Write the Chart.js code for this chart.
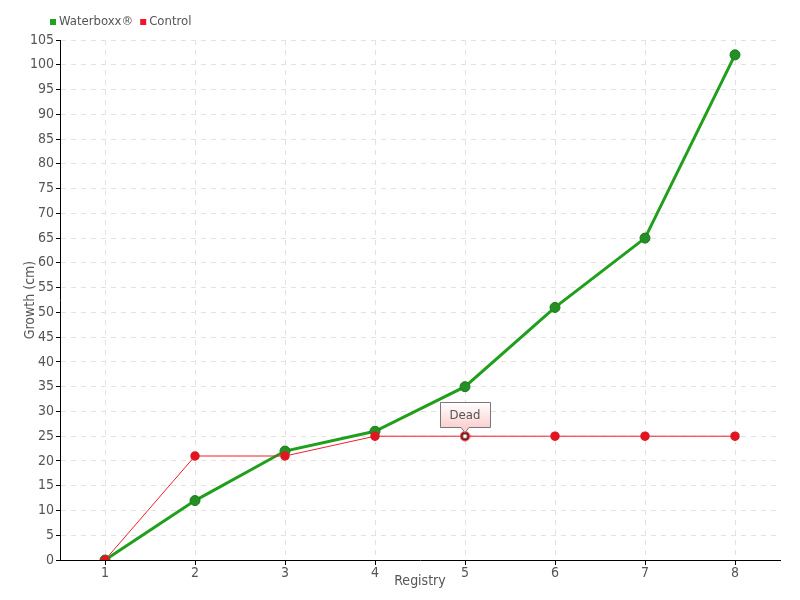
<!DOCTYPE html>
<html>
<head>
<meta charset="utf-8">
<script src="https://cdn.jsdelivr.net/npm/chart.js@4.4.1/dist/chart.umd.min.js"></script>
<style>
  html, body { margin: 0; padding: 0; background: #fff; }
  #wrap { width: 800px; height: 600px; }
</style>
</head>
<body>
<div id="wrap"><canvas id="growth"></canvas></div>
<script>
// データ
const registry = ['1', '2', '3', '4', '5', '6', '7', '8'];
const waterboxx = [0, 12, 22, 26, 35, 51, 65, 102];
const control = [0, 21, 21, 25, 25, 25, 25, 25];
const deadIndex = 4; // Control が枯れた地点
const deadLabel = 'Dead';
const yTicksMax = 105;

const FONT = '"DejaVu Sans Condensed", "Liberation Sans Narrow", sans-serif';
const TEXT = '#555';

// 凡例（左上）
const legendPlugin = {
  id: 'topLegend',
  afterDraw(chart) {
    const ctx = chart.ctx;
    ctx.save();
    ctx.font = '13px ' + FONT;
    ctx.textBaseline = 'middle';
    let x = 50;
    const y = 22;
    chart.data.datasets.forEach(ds => {
      ctx.fillStyle = ds.legendColor;
      ctx.fillRect(x, y - 3, 6, 6);
      x += 9;
      ctx.fillStyle = TEXT;
      ctx.fillText(ds.label, x, y);
      x += ctx.measureText(ds.label).width + 7;
    });
    ctx.restore();
  }
};

// "Dead" の吹き出し
const deadPlugin = {
  id: 'deadTip',
  afterDatasetsDraw(chart) {
    const meta = chart.getDatasetMeta(1);
    const pt = meta.data[deadIndex];
    if (!pt) return;
    const ctx = chart.ctx;
    ctx.save();
    ctx.font = '13px ' + FONT;
    const w = 50, h = 25;
    const bx = Math.round(pt.x - w / 2) + 0.5, by = Math.round(pt.y - 9 - h) + 0.5;
    const grad = ctx.createLinearGradient(0, by, 0, by + h);
    grad.addColorStop(0, '#ffffff');
    grad.addColorStop(1, '#fbd0d0');
    ctx.beginPath();
    ctx.moveTo(bx, by);
    ctx.lineTo(bx + w, by);
    ctx.lineTo(bx + w, by + h);
    ctx.lineTo(pt.x + 4, by + h);
    ctx.lineTo(pt.x, by + h + 5);
    ctx.lineTo(pt.x - 4, by + h);
    ctx.lineTo(bx, by + h);
    ctx.closePath();
    ctx.fillStyle = grad;
    ctx.fill();
    ctx.strokeStyle = '#777';
    ctx.lineWidth = 1;
    ctx.stroke();
    ctx.fillStyle = TEXT;
    ctx.textAlign = 'center';
    ctx.textBaseline = 'middle';
    ctx.fillText(deadLabel, pt.x, by + h / 2 + 1);
    ctx.restore();
  }
};

// 枯れた地点のマーカー（赤い輪＋白い四角）
const deadMarker = document.createElement('canvas');
deadMarker.width = 11; deadMarker.height = 11;
(function () {
  const c = deadMarker.getContext('2d');
  c.beginPath();
  c.arc(5.5, 5.5, 5, 0, Math.PI * 2);
  c.fillStyle = '#e3141f';
  c.fill();
  c.fillStyle = '#000';
  c.fillRect(2.5, 2.5, 6, 6);
  c.fillStyle = '#fff';
  c.fillRect(3.5, 3.5, 4, 4);
})();

const controlStyle = control.map((v, i) => i === deadIndex ? deadMarker : 'circle');

new Chart(document.getElementById('growth'), {
  type: 'line',
  data: {
    labels: registry,
    datasets: [
      {
        label: 'Waterboxx®',
        data: waterboxx,
        legendColor: '#22a31e',
        borderColor: '#1f9f1b',
        borderWidth: 3,
        pointRadius: 5,
        pointBackgroundColor: '#248f22',
        pointBorderColor: '#1b7a1a',
        pointBorderWidth: 1,
        tension: 0,
        order: 2
      },
      {
        label: 'Control',
        data: control,
        legendColor: '#f0142a',
        borderColor: '#f01e2c',
        borderWidth: 1,
        pointRadius: 4,
        pointStyle: controlStyle,
        pointBackgroundColor: '#e3141f',
        pointBorderColor: '#d81c24',
        pointBorderWidth: 1.5,
        tension: 0,
        order: 1
      }
    ]
  },
  options: {
    responsive: true,
    maintainAspectRatio: false,
    animation: false,
    layout: { padding: { top: 40, right: 20, left: 0, bottom: 0 } },
    plugins: {
      legend: { display: false },
      tooltip: { enabled: false }
    },
    scales: {
      x: {
        offset: true,
        afterFit: (s) => { s.height = 40; },
        grid: {
          offset: false,
          color: '#e2e2e2',
          drawTicks: true,
          tickLength: 5,
          tickColor: '#000',
          tickBorderDash: [],
          lineWidth: 1
        },
        border: { display: true, color: '#000', width: 1, dash: [5, 5] },
        ticks: { color: TEXT, font: { family: FONT, size: 14 }, padding: 0 },
        title: {
          display: true,
          text: 'Registry',
          color: TEXT,
          font: { family: FONT, size: 14 },
          padding: { top: 0, bottom: 10 }
        }
      },
      y: {
        min: 0,
        max: yTicksMax,
        afterFit: (s) => { s.width = 60; },
        grid: {
          color: '#e2e2e2',
          tickLength: 4,
          tickColor: '#000',
          tickBorderDash: [],
          lineWidth: 1
        },
        border: { display: true, color: '#000', width: 1, dash: [5, 5] },
        ticks: { stepSize: 5, color: TEXT, font: { family: FONT, size: 14 }, padding: 2 },
        title: {
          display: true,
          text: 'Growth (cm)',
          color: TEXT,
          font: { family: FONT, size: 14 },
          padding: { top: 22, bottom: 0 }
        }
      }
    }
  },
  plugins: [legendPlugin, deadPlugin]
});
</script>
</body>
</html>
